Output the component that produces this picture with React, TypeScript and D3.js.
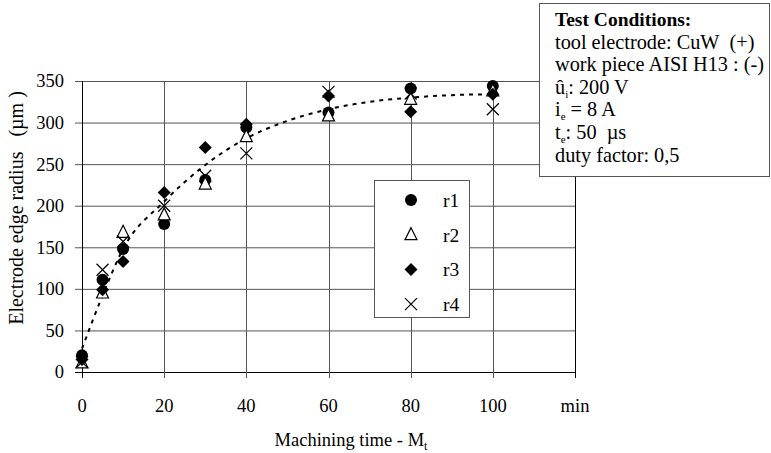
import { useRef, useEffect } from "react";
import * as d3 from "d3";

// machining time (min)
const times = [0, 5, 10, 20, 30, 40, 60, 80, 100];
// edge radius per run (µm)
const r1 = [20, 111, 148, 178, 231, 294, 312, 341, 344];
const r2 = [11, 95, 168, 189, 226, 283, 308, 328, 338];
const r3 = [15, 99, 133, 216, 270, 298, 332, 313, 334];
const r4 = [12, 123, 157, 200, 236, 263, 337, 335, 316];
// dashed trend
const trendT = [0, 5, 10, 20, 30, 40, 50, 60, 70, 80, 90, 100];
const trendV = [28, 92, 148, 205, 249, 281, 302, 316, 325, 330, 333, 334];

const xTicks = [0, 20, 40, 60, 80, 100];
const yTicks = [0, 50, 100, 150, 200, 250, 300, 350];
const seriesNames = ["r1", "r2", "r3", "r4"];
const conditions = [
  "tool electrode: CuW\u00a0\u00a0(+)",
  "work piece AISI H13 : (-)",
];

export default function App() {
  const svgRef = useRef<SVGSVGElement>(null);

  useEffect(() => {
    const w = 771;
    const h = 453;
    const svg = d3.select(svgRef.current);
    svg.selectAll("*").remove();
    svg
      .attr("width", w)
      .attr("height", h)
      .style("font-family", "'Liberation Serif', 'Times New Roman', serif");

    const x = d3.scaleLinear().domain([0, 120]).range([82, 575]);
    const y = d3.scaleLinear().domain([0, 350]).range([372, 81]);

    // grid
    svg
      .append("g")
      .selectAll("line")
      .data(yTicks)
      .enter()
      .append("line")
      .attr("x1", 75)
      .attr("x2", 575)
      .attr("y1", (d) => y(d) + 0.5)
      .attr("y2", (d) => y(d) + 0.5)
      .attr("stroke", (d) => (d === 0 ? "#000" : "#555"))
      .attr("stroke-width", 1);
    svg
      .append("g")
      .selectAll("line")
      .data([...xTicks, 120])
      .enter()
      .append("line")
      .attr("x1", (d) => Math.round(x(d)) + 0.5)
      .attr("x2", (d) => Math.round(x(d)) + 0.5)
      .attr("y1", y(350))
      .attr("y2", 378)
      .attr("stroke", (d) => (d === 0 || d === 120 ? "#000" : "#555"))
      .attr("stroke-width", 1);

    // tick labels
    svg
      .append("g")
      .selectAll("text")
      .data(yTicks)
      .enter()
      .append("text")
      .attr("x", 64)
      .attr("y", (d) => y(d))
      .attr("dy", "0.35em")
      .attr("text-anchor", "end")
      .attr("font-size", 18.5)
      .text((d) => d);
    svg
      .append("g")
      .selectAll("text")
      .data(xTicks)
      .enter()
      .append("text")
      .attr("x", (d) => x(d))
      .attr("y", 412)
      .attr("text-anchor", "middle")
      .attr("font-size", 18.5)
      .text((d) => d);
    svg
      .append("text")
      .attr("x", x(120))
      .attr("y", 412)
      .attr("text-anchor", "middle")
      .attr("font-size", 18.5)
      .text("min");

    // axis titles
    const xt = svg
      .append("text")
      .attr("x", 351)
      .attr("y", 446)
      .attr("text-anchor", "middle")
      .attr("font-size", 18.5);
    xt.append("tspan").text("Machining time - M");
    xt.append("tspan").attr("dy", 4).attr("font-size", 12).text("t");

    svg
      .append("text")
      .attr("transform", `translate(23, 208) rotate(-90)`)
      .attr("text-anchor", "middle")
      .attr("font-size", 20)
      .text("Electrode edge radius\u00a0\u00a0\u00a0(\u00b5m\u00a0)");

    // trend line
    const line = d3
      .line<number>()
      .x((d, i) => x(trendT[i]))
      .y((d) => y(d))
      .curve(d3.curveMonotoneX);
    svg
      .append("path")
      .attr("d", line(trendV))
      .attr("fill", "none")
      .attr("stroke", "#000")
      .attr("stroke-width", 2)
      .attr("stroke-dasharray", "4,5");

    // markers
    const drawMarker = (g: any, kind: number) => {
      if (kind === 0) {
        g.append("circle").attr("r", 6).attr("fill", "#000");
      } else if (kind === 1) {
        g.append("path")
          .attr("d", "M0,-7L6,5L-6,5Z")
          .attr("fill", "#fff")
          .attr("stroke", "#000")
          .attr("stroke-width", 1.2);
      } else if (kind === 2) {
        g.append("path").attr("d", "M0,-6.5L6.5,0L0,6.5L-6.5,0Z").attr("fill", "#000");
      } else {
        g.append("path")
          .attr("d", "M-6,-6L6,6M-6,6L6,-6")
          .attr("stroke", "#000")
          .attr("stroke-width", 1.2);
      }
    };

    [r1, r2, r3, r4].forEach((vals, k) => {
      vals.forEach((v, i) => {
        const g = svg.append("g").attr("transform", `translate(${x(times[i])},${y(v)})`);
        drawMarker(g, k);
      });
    });

    // legend
    svg
      .append("rect")
      .attr("x", 374.5)
      .attr("y", 180.5)
      .attr("width", 95)
      .attr("height", 137)
      .attr("fill", "#fff")
      .attr("stroke", "#555");
    seriesNames.forEach((name, k) => {
      const cy = 200 + k * 34.7;
      const g = svg.append("g").attr("transform", `translate(411,${cy})`);
      drawMarker(g, k);
      svg
        .append("text")
        .attr("x", 443)
        .attr("y", cy)
        .attr("dy", "0.35em")
        .attr("font-size", 19.5)
        .text(name);
    });

    // test conditions box
    svg
      .append("rect")
      .attr("x", 539.5)
      .attr("y", 3.5)
      .attr("width", 230)
      .attr("height", 173)
      .attr("fill", "#fff")
      .attr("stroke", "#555");
    const tx = 555;
    const step = 22.6;
    const base = 26;
    const fs = 20.3;
    svg
      .append("text")
      .attr("x", tx)
      .attr("y", base)
      .attr("font-size", 19.5)
      .attr("font-weight", "bold")
      .text("Test Conditions:");
    conditions.forEach((c, i) => {
      svg
        .append("text")
        .attr("x", tx)
        .attr("y", base + step * (i + 1))
        .attr("font-size", fs)
        .text(c);
    });
    const subLine = (row: number, main: string, sub: string, rest: string) => {
      const t = svg
        .append("text")
        .attr("x", tx)
        .attr("y", base + step * row)
        .attr("font-size", fs);
      t.append("tspan").text(main);
      t.append("tspan").attr("dy", 4).attr("font-size", 11).text(sub);
      t.append("tspan").attr("dy", -4).text(rest);
    };
    subLine(3, "\u00fb", "i", ": 200 V");
    subLine(4, "i", "e", " = 8 A");
    subLine(5, "t", "e", ": 50\u00a0\u00a0\u00b5s");
    svg
      .append("text")
      .attr("x", tx)
      .attr("y", base + step * 6)
      .attr("font-size", fs)
      .text("duty factor: 0,5");
  }, []);

  return <svg ref={svgRef} style={{ position: "absolute", left: 0, top: 0 }}></svg>;
}
